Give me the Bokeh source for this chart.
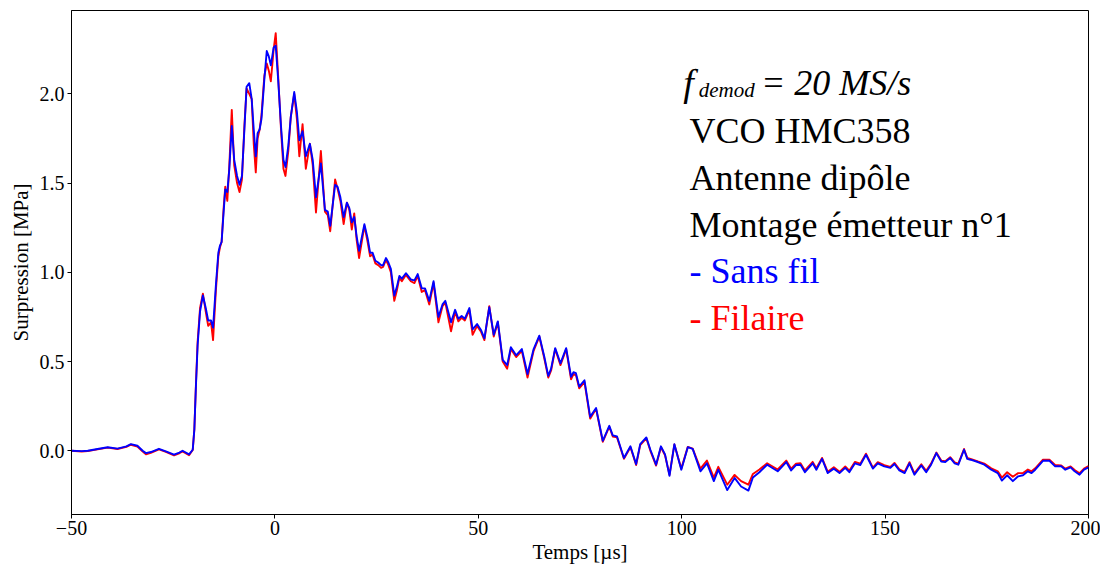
from bokeh.plotting import figure
from bokeh.models import Range1d, FixedTicker, Label
from bokeh.embed import file_html
from bokeh.resources import INLINE

# Time axis [µs]
t = [-50.0, -47.5, -46.0, -43.6, -41.1, -38.7, -36.5, -35.4, -33.8, -32.5, -31.7, -30.5, -28.5, -26.8, -24.8, -23.5,
     -22.7, -21.1, -20.2, -19.8, -19.4, -19.0, -18.4, -17.7, -17.0, -16.4, -15.7, -15.2, -14.5, -13.9, -13.5, -13.1,
     -12.6, -12.2, -11.7, -11.2, -10.6, -10.0, -9.3, -8.7, -8.1, -7.5, -6.96, -6.3, -5.7, -5.2, -4.7, -4.25,
     -3.76, -3.3, -2.6, -2.0, -1.5, -1.0, -0.3, 0.2, 0.8, 1.5, 2.1, 2.6, 3.3, 3.9, 4.75, 5.4,
     6.0, 6.8, 7.6, 8.6, 9.3, 10.1, 11.3, 12.3, 13.0, 13.6, 14.8, 15.4, 16.1, 16.9, 17.7, 18.3,
     18.9, 19.5, 20.1, 20.7, 22.0, 22.8, 23.4, 24.0, 24.7, 25.4, 26.1, 26.6, 27.3, 27.9, 28.5, 29.35,
     30.0, 30.6, 31.2, 32.2, 33.4, 34.3, 35.1, 36.1, 36.9, 37.95, 39.0, 40.2, 41.2, 41.9, 43.3, 44.3,
     45.1, 45.9, 46.7, 47.8, 48.6, 49.7, 50.7, 51.5, 52.7, 53.8, 54.8, 56.0, 57.1, 58.0, 59.3, 60.7,
     62.1, 63.6, 65.0, 66.2, 67.2, 67.9, 68.9, 70.2, 71.6, 72.8, 73.4, 74.0, 74.8, 76.1, 77.5, 78.95,
     80.6, 82.2, 83.05, 84.1, 85.8, 87.4, 88.8, 89.8, 91.3, 92.3, 93.7, 94.9, 95.9, 97.0, 98.2, 99.9,
     101.5, 102.7, 104.6, 106.2, 107.9, 109.0, 111.2, 113.0, 114.6, 116.4, 117.5, 119.1, 121.0, 123.6, 125.7, 126.9,
     128.1, 129.2, 130.3, 132.2, 133.1, 134.5, 135.9, 137.4, 138.8, 140.2, 141.2, 142.6, 143.9, 145.3, 147.0, 148.2,
     149.8, 151.3, 152.3, 153.5, 154.8, 156.0, 157.2, 158.9, 160.1, 161.3, 162.6, 163.8, 164.8, 166.0, 167.1, 168.0,
     169.4, 170.2, 171.0, 172.8, 174.4, 176.1, 177.7, 178.7, 180.0, 181.4, 182.7, 183.9, 185.1, 186.0, 186.9, 188.8,
     190.4, 191.8, 193.3, 194.3, 195.6, 196.6, 197.8, 198.9, 200.0]

# "Sans fil" (wireless) series [MPa]
sans_fil = [0.0, -0.002, 0.0, 0.01, 0.02, 0.012, 0.025, 0.037, 0.028, 0.0, -0.013, -0.007, 0.011, -0.003, -0.022, -0.01,
            0.0, -0.02, 0.006, 0.12, 0.37, 0.59, 0.78, 0.87, 0.80, 0.73, 0.73, 0.69, 0.93, 1.11, 1.15, 1.17,
            1.34, 1.465, 1.45, 1.58, 1.82, 1.63, 1.54, 1.49, 1.54, 1.80, 2.04, 2.06, 1.97, 1.80, 1.65, 1.78,
            1.80, 1.86, 2.08, 2.24, 2.21, 2.16, 2.26, 2.27, 2.08, 1.82, 1.63, 1.59, 1.71, 1.87, 2.01, 1.90,
            1.74, 1.79, 1.65, 1.72, 1.63, 1.42, 1.61, 1.35, 1.34, 1.26, 1.49, 1.48, 1.42, 1.31, 1.39, 1.36,
            1.28, 1.31, 1.20, 1.12, 1.27, 1.19, 1.11, 1.11, 1.065, 1.055, 1.04, 1.04, 1.08, 1.055, 1.02, 0.87,
            0.92, 0.98, 0.965, 0.995, 0.96, 0.955, 0.99, 0.91, 0.91, 0.84, 0.95, 0.75, 0.82, 0.84, 0.72, 0.79,
            0.74, 0.755, 0.74, 0.80, 0.68, 0.71, 0.675, 0.63, 0.805, 0.65, 0.725, 0.51, 0.48, 0.58, 0.535, 0.57,
            0.43, 0.57, 0.645, 0.53, 0.42, 0.46, 0.575, 0.49, 0.575, 0.415, 0.44, 0.435, 0.36, 0.395, 0.19, 0.24,
            0.056, 0.14, 0.086, 0.08, -0.04, 0.025, -0.075, 0.037, 0.075, 0.006, -0.078, 0.025, -0.02, -0.14, 0.037, -0.106,
            0.02, 0.011, -0.115, -0.07, -0.17, -0.106, -0.22, -0.152, -0.2, -0.223, -0.15, -0.12, -0.078, -0.115, -0.063, -0.11,
            -0.08, -0.078, -0.12, -0.07, -0.106, -0.045, -0.125, -0.1, -0.125, -0.096, -0.12, -0.07, -0.08, -0.022, -0.1, -0.07,
            -0.087, -0.096, -0.074, -0.11, -0.125, -0.07, -0.134, -0.082, -0.12, -0.078, -0.013, -0.06, -0.063, -0.04, -0.07, -0.078,
            0.006, -0.045, -0.05, -0.063, -0.078, -0.106, -0.125, -0.167, -0.137, -0.17, -0.143, -0.137, -0.115, -0.125, -0.106, -0.056,
            -0.056, -0.087, -0.087, -0.106, -0.093, -0.115, -0.134, -0.106, -0.093]

# "Filaire" (wired) series [MPa]
filaire = [0.0, -0.004, -0.002, 0.008, 0.018, 0.01, 0.022, 0.034, 0.024, -0.004, -0.02, -0.012, 0.008, -0.006, -0.026, -0.014,
           -0.003, -0.025, 0.004, 0.12, 0.38, 0.61, 0.80, 0.88, 0.78, 0.70, 0.72, 0.62, 0.90, 1.09, 1.14, 1.17,
           1.36, 1.48, 1.40, 1.60, 1.91, 1.60, 1.50, 1.45, 1.52, 1.82, 2.03, 2.00, 1.97, 1.72, 1.56, 1.75,
           1.80, 1.88, 2.10, 2.17, 2.13, 2.07, 2.25, 2.34, 2.10, 1.80, 1.58, 1.54, 1.68, 1.87, 2.00, 1.86,
           1.65, 1.83, 1.58, 1.72, 1.60, 1.335, 1.68, 1.34, 1.32, 1.23, 1.52, 1.47, 1.40, 1.27, 1.39, 1.35,
           1.24, 1.33, 1.18, 1.08, 1.26, 1.17, 1.09, 1.10, 1.05, 1.04, 1.025, 1.03, 1.07, 1.04, 1.00, 0.84,
           0.90, 0.97, 0.95, 0.985, 0.95, 0.94, 0.98, 0.89, 0.90, 0.82, 0.94, 0.72, 0.81, 0.83, 0.67, 0.78,
           0.725, 0.745, 0.73, 0.79, 0.65, 0.70, 0.665, 0.62, 0.81, 0.64, 0.72, 0.50, 0.46, 0.57, 0.525, 0.56,
           0.41, 0.56, 0.64, 0.52, 0.41, 0.45, 0.57, 0.48, 0.57, 0.40, 0.43, 0.425, 0.35, 0.385, 0.18, 0.235,
           0.05, 0.135, 0.08, 0.075, -0.045, 0.02, -0.08, 0.032, 0.07, 0.0, -0.083, 0.02, -0.025, -0.135, 0.035, -0.1,
           0.022, 0.012, -0.1, -0.055, -0.15, -0.09, -0.19, -0.135, -0.17, -0.19, -0.13, -0.105, -0.07, -0.105, -0.055, -0.1,
           -0.072, -0.07, -0.11, -0.062, -0.098, -0.04, -0.118, -0.092, -0.118, -0.088, -0.112, -0.062, -0.072, -0.016, -0.094, -0.064,
           -0.08, -0.09, -0.068, -0.104, -0.118, -0.064, -0.126, -0.076, -0.112, -0.072, -0.01, -0.055, -0.058, -0.036, -0.065, -0.072,
           0.01, -0.04, -0.045, -0.06, -0.072, -0.098, -0.115, -0.15, -0.12, -0.145, -0.125, -0.125, -0.105, -0.115, -0.098, -0.05,
           -0.05, -0.08, -0.082, -0.1, -0.088, -0.108, -0.126, -0.1, -0.085]

x_ticks = [-50, 0, 50, 100, 150, 200]
x_tick_labels = {-50: "\u221250", 0: "0", 50: "50", 100: "100", 150: "150", 200: "200"}
y_ticks = [0, 0.5, 1, 1.5, 2]
y_tick_labels = {0: "0.0", 0.5: "0.5", 1: "1.0", 1.5: "1.5", 2: "2.0"}

FONT = "Liberation Serif"

p = figure(width=1100, height=566, output_backend="svg", toolbar_location=None,
           x_range=Range1d(-50, 200), y_range=Range1d(-0.357, 2.467),
           min_border_left=71, min_border_right=12, min_border_top=10, min_border_bottom=44)
p.background_fill_color = "white"
p.border_fill_color = "white"
p.outline_line_color = "black"
p.outline_line_width = 1
p.grid.visible = False

p.line(t, filaire, line_color="#ff0000", line_width=1.9, line_join="round")
p.line(t, sans_fil, line_color="#0000ff", line_width=1.9, line_join="round")

for ax in (p.xaxis[0], p.yaxis[0]):
    ax.axis_line_color = "black"
    ax.major_tick_line_color = "black"
    ax.minor_tick_line_color = None
    ax.major_tick_out = 4
    ax.major_tick_in = 0
    ax.major_label_text_font = FONT
    ax.major_label_text_font_size = "20px"
    ax.major_label_text_color = "black"
    ax.axis_label_text_font = FONT
    ax.axis_label_text_font_size = "21px"
    ax.axis_label_text_font_style = "normal"
    ax.axis_label_text_color = "black"

p.xaxis.ticker = FixedTicker(ticks=x_ticks)
p.xaxis.major_label_overrides = x_tick_labels
p.yaxis.ticker = FixedTicker(ticks=y_ticks)
p.yaxis.major_label_overrides = y_tick_labels
p.xaxis.axis_label = "Temps [\u00b5s]"
p.yaxis.axis_label = "Surpression [MPa]"
p.xaxis.major_label_standoff = 2
p.xaxis.axis_label_standoff = 2
p.yaxis.major_label_standoff = 3
p.yaxis.axis_label_standoff = 4

# Annotation block
p.add_layout(Label(x=100.4, y=2.06, text="f", text_font=FONT, text_font_style="italic",
                   text_font_size="38px", text_color="black", text_baseline="alphabetic"))
p.add_layout(Label(x=104.2, y=2.021, text="demod", text_font=FONT, text_font_style="italic",
                   text_font_size="21px", text_color="black", text_baseline="alphabetic"))
p.add_layout(Label(x=119.5, y=2.06, text="= 20 MS/s", text_font=FONT, text_font_style="italic",
                   text_font_size="36px", text_color="black", text_baseline="alphabetic"))

lines = [("VCO HMC358", 1.794, "black"),
         ("Antenne dip\u00f4le", 1.529, "black"),
         ("Montage \u00e9metteur n\u00b01", 1.266, "black"),
         ("- Sans fil", 1.010, "#0000ff"),
         ("- Filaire", 0.744, "#ff0000")]
for txt, yy, col in lines:
    p.add_layout(Label(x=101.9, y=yy, text=txt, text_font=FONT, text_font_size="36px",
                       text_color=col, text_baseline="alphabetic"))

open("out.html", "w").write(file_html(p, INLINE))
